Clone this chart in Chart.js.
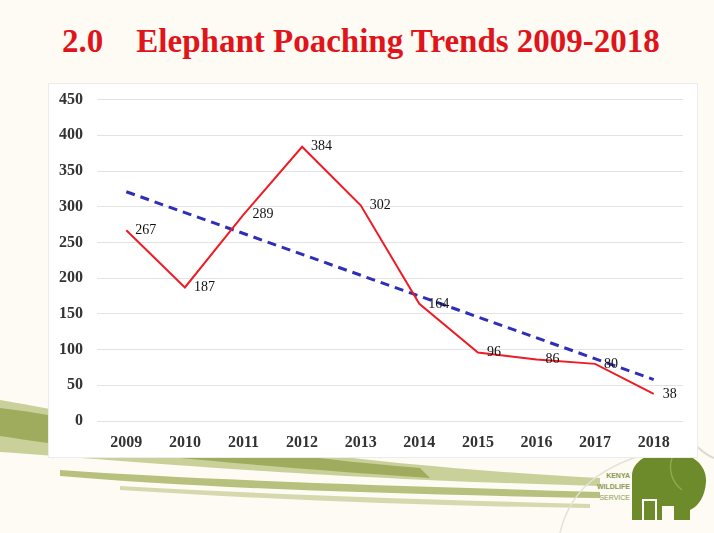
<!DOCTYPE html>
<html>
<head>
<meta charset="utf-8">
<script src="https://cdn.jsdelivr.net/npm/chart.js@4.4.1/dist/chart.umd.min.js"></script>
<style>
  html, body { margin: 0; padding: 0; }
  body { width: 714px; height: 533px; background: #fdfbf3; position: relative; overflow: hidden; font-family: "Liberation Serif", serif; }
  #deco { position: absolute; left: 0; top: 0; }
  #title { position: absolute; left: 0; top: 23px; width: 722px; text-align: center; color: #e0141b; font-weight: bold; font-size: 33px; white-space: pre; }
  #box { position: absolute; left: 48px; top: 83px; width: 650px; height: 375px; background: #fff; border: 1px solid #ececec; box-sizing: border-box; }
  #box canvas { position: absolute; left: 0; top: -8px; }
  #kws { position: absolute; left: 570px; top: 470px; width: 60px; text-align: right; font-family: "Liberation Sans", sans-serif; font-size: 7px; font-weight: bold; line-height: 11px; color: #8a9a52; }
</style>
</head>
<body>
<svg id="deco" width="714" height="533">
  <path d="M0 400 C 120 420, 260 460, 600 478 L 600 486 C 300 478, 120 460, 0 452 Z" fill="#c9d09a"/>
  <path d="M0 408 C 100 420, 200 450, 420 468 L 430 478 C 200 462, 90 450, 0 436 Z" fill="#9fac5e"/>
  <path d="M60 470 C 200 480, 400 486, 600 492 L 600 498 C 380 494, 200 488, 60 476 Z" fill="#b7c07c"/>
  <path d="M120 486 C 300 496, 450 500, 590 504 L 590 508 C 430 506, 280 500, 120 490 Z" fill="#d5d9ad"/>
  <path d="M560 533 C 570 490, 600 465, 660 450" stroke="#e4e2d6" stroke-width="1.5" fill="none"/>
  <path d="M690 440 C 700 450, 708 456, 714 458" stroke="#dcdad0" stroke-width="2" fill="none"/>
  <g fill="#6d8b2b">
    <path d="M632 520 L 632 476 C 632 460, 652 450, 674 452 C 694 454, 707 466, 706 482 C 705 496, 699 506, 690 510 L 690 520 L 674 520 L 674 506 L 662 506 L 662 520 Z"/>
  </g>
  <path d="M643 520 L 643 500 L 656 500 L 656 520" stroke="#fff" stroke-width="2" fill="none"/>
  <path d="M672 458 C 668 470, 672 482, 682 490" stroke="#8fa84a" stroke-width="1.5" fill="none"/>
</svg>
<div id="title">2.0    Elephant Poaching Trends 2009-2018</div>
<div id="box"><canvas id="canvas" width="650" height="383"></canvas></div>
<div id="kws">KENYA<br>WILDLIFE<br><span style="font-weight:normal">SERVICE</span></div>
<script>
var years = ["2009", "2010", "2011", "2012", "2013", "2014", "2015", "2016", "2017", "2018"];
var poached = [267, 187, 289, 384, 302, 164, 96, 86, 80, 38];
// trend line end points
var trend = [321, null, null, null, null, null, null, null, null, 58];
var yTicks = [0, 50, 100, 150, 200, 250, 300, 350, 400, 450];

var valueLabels = {
	id: "valueLabels",
	afterDatasetsDraw: function(chart){
		var ctx = chart.ctx;
		var meta = chart.getDatasetMeta(0);
		ctx.save();
		ctx.font = "14px 'Liberation Serif'";
		ctx.fillStyle = "#111";
		ctx.textAlign = "left";
		ctx.textBaseline = "middle";
		for (var i = 0; i < meta.data.length; i++) {
			var p = meta.data[i];
			ctx.fillText(poached[i], p.x + 9, p.y);
		}
		ctx.restore();
	}
};

var c = document.getElementById("canvas");
var chart = new Chart(c, {
	type: "line",
	data: {
		labels: years,
		datasets: [
			{
				label: "Poached",
				data: poached,
				borderColor: "#ee1c25",
				borderWidth: 2,
				pointRadius: 0,
				tension: 0,
				fill: false
			},
			{
				label: "Trend",
				data: trend,
				borderColor: "#2e2eb8",
				borderWidth: 3,
				borderDash: [9, 6],
				pointRadius: 0,
				spanGaps: true,
				fill: false
			}
		]
	},
	options: {
		responsive: false,
		animation: false,
		layout: { padding: { top: 8, left: 5, right: 16, bottom: 4 } },
		plugins: { legend: { display: false }, tooltip: { enabled: false } },
		scales: {
			x: {
				offset: true,
				grid: { display: false, drawTicks: false },
				border: { display: false },
				afterFit: function(s){ s.height = 34; },
				ticks: { color: "#333", padding: 12, font: { family: "Liberation Serif", size: 16, weight: "bold" } }
			},
			y: {
				min: 0,
				max: 450,
				afterBuildTicks: function(s){ s.ticks = yTicks.map(function(v){ return { value: v }; }); },
				afterFit: function(s){ s.width = 43; },
				grid: { color: "#e3e3e3", drawTicks: false },
				border: { display: false },
				ticks: { color: "#333", padding: 14, font: { family: "Liberation Serif", size: 16, weight: "bold" } }
			}
		}
	},
	plugins: [valueLabels]
});
</script>
</body>
</html>
